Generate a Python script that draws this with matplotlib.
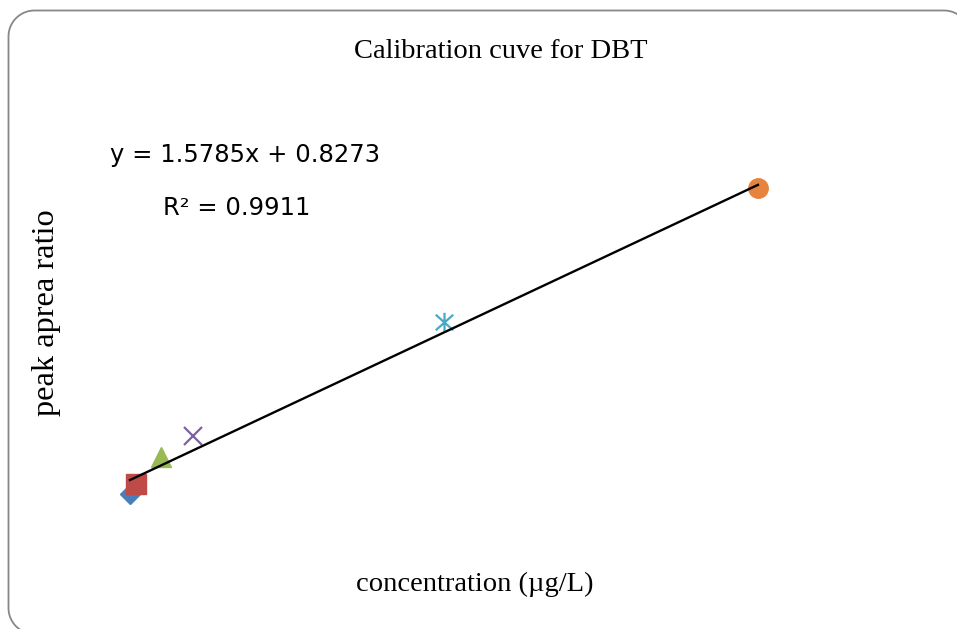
import matplotlib
matplotlib.use("Agg")

import matplotlib.pyplot as plt
import numpy as np
from matplotlib.patches import PathPatch
from matplotlib.path import Path

# ---------------------------
# Data: DBT calibration standards
# ---------------------------
conc = [0, 0.1, 0.5, 1, 5, 10]              # concentration (ug/L)
ratio = [0.08, 0.61, 2.06, 3.18, 9.28, 16.44]  # peak area ratio
slope = 1.5785
intercept = 0.8273
r_squared = 0.9911

# one marker style per standard, Office-style palette
colors = ["#4A7EBB", "#BE4B48", "#98B954", "#7D60A0", "#46AAC5", "#E6843F"]

# Excel "star": vertical bar plus an X
star = Path(
    [(0, -1), (0, 1), (-0.9, -0.8), (0.9, 0.8), (-0.9, 0.8), (0.9, -0.8)],
    [Path.MOVETO, Path.LINETO] * 3,
)
markers = [
    dict(marker="D", markersize=10.5),
    dict(marker="s", markersize=14),
    dict(marker="^", markersize=14),
    dict(marker="x", markersize=13, markeredgewidth=1.6),
    dict(marker=star, markersize=14, markeredgewidth=1.6),
    dict(marker="o", markersize=14),
]

W, H = 957, 629
fig = plt.figure(figsize=(W / 100, H / 100), dpi=100)
fig.patch.set_facecolor("white")


def rounded_rect(x0, y0, x1, y1, r, n=24):
    """Closed outline of a rounded rectangle, corners as polyline arcs."""
    pts = []
    corners = [(x1 - r, y1 - r, 0), (x0 + r, y1 - r, 90),
               (x0 + r, y0 + r, 180), (x1 - r, y0 + r, 270)]
    for cx, cy, a0 in corners:
        t = np.radians(np.linspace(a0, a0 + 90, n))
        pts += list(zip(cx + r * np.cos(t), cy + r * np.sin(t)))
    pts.append(pts[0])
    return Path(pts)


# pixel-unit overlay for the chart frame (y measured upward)
frame = fig.add_axes([0, 0, 1, 1])
frame.set_xlim(0, W)
frame.set_ylim(0, H)
frame.axis("off")
frame.add_patch(PathPatch(rounded_rect(8.5, -5, 970, H - 10.5, 26),
                          facecolor="none", edgecolor="#878787", linewidth=1.3))

# invisible data axes filling the whole canvas
ax = fig.add_axes([0, 0, 1, 1])
ax.set_xlim(-2.07, 13.17)
ax.set_ylim(-7.14, 26.5)
ax.axis("off")

for x, y, c, m in zip(conc, ratio, colors, markers):
    ax.plot([x], [y], linestyle="none", color=c, markeredgecolor=c, **m)

# linear trendline over the standards' range
xs = np.array([min(conc), max(conc)])
ax.plot(xs, slope * xs + intercept, color="black", linewidth=1.7, zorder=5)


def px(x, y):
    return x / W, 1 - y / H


serif = "Liberation Serif"
fig.text(*px(501, 58), "Calibration cuve for DBT", ha="center", va="baseline",
         family=serif, fontsize=20.5)
fig.text(*px(475, 591), "concentration (µg/L)", ha="center", va="baseline",
         family=serif, fontsize=20.5)
fig.text(*px(47, 313), "peak aprea ratio", ha="center", va="center",
         rotation=90, family=serif, fontsize=23.3)

fig.text(*px(110, 162), f"y = {slope}x + {intercept}", ha="left", va="baseline",
         family="DejaVu Sans", fontsize=17.5)
fig.text(*px(163, 215), f"R² = {r_squared}", ha="left", va="baseline",
         family="DejaVu Sans", fontsize=17.5)

fig.savefig("out.png", dpi=100)
